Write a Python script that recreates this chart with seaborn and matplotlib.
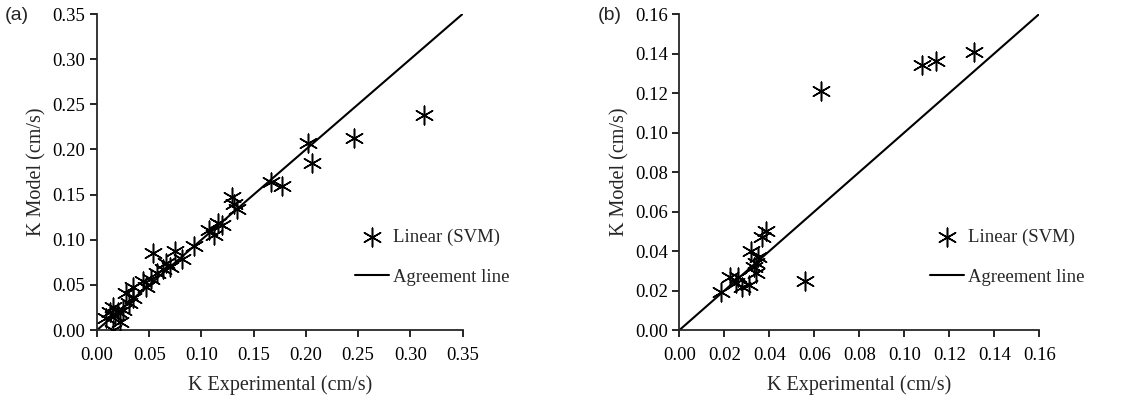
import seaborn as sns
import matplotlib.pyplot as plt

# panel (a) data
exp_a = [0.313, 0.246, 0.202, 0.206, 0.167, 0.177, 0.129, 0.131, 0.134, 0.107,
         0.116, 0.112, 0.093, 0.075, 0.081, 0.054, 0.066, 0.063, 0.057, 0.052,
         0.044, 0.047, 0.034, 0.028, 0.034, 0.031, 0.025, 0.015, 0.012, 0.017,
         0.022, 0.015, 0.009, 0.020, 0.070, 0.120]
mod_a = [0.238, 0.213, 0.207, 0.185, 0.164, 0.160, 0.147, 0.140, 0.134, 0.111,
         0.119, 0.105, 0.093, 0.087, 0.079, 0.085, 0.074, 0.068, 0.063, 0.057,
         0.054, 0.048, 0.048, 0.041, 0.035, 0.030, 0.022, 0.026, 0.020, 0.015,
         0.009, 0.000, 0.013, 0.020, 0.070, 0.116]

# panel (b) data
exp_b = [0.131, 0.114, 0.108, 0.063, 0.056, 0.0385, 0.0366, 0.032, 0.035, 0.034,
         0.033, 0.034, 0.031, 0.028, 0.025, 0.0225, 0.0185, 0.026]
mod_b = [0.141, 0.136, 0.134, 0.121, 0.025, 0.050, 0.047, 0.040, 0.037, 0.034,
         0.032, 0.029, 0.023, 0.022, 0.024, 0.027, 0.019, 0.027]

ticks_a = [0.00, 0.05, 0.10, 0.15, 0.20, 0.25, 0.30, 0.35]
ticks_b = [0.00, 0.02, 0.04, 0.06, 0.08, 0.10, 0.12, 0.14, 0.16]

sns.set_style("ticks")
plt.rcParams['font.family'] = ['Liberation Serif', 'DejaVu Serif']

fig = plt.figure(figsize=(11.42, 4.01), dpi=100)
ax_a = fig.add_axes([0.085, 0.177, 0.320, 0.788])
ax_b = fig.add_axes([0.595, 0.177, 0.315, 0.788])


def draw_panel(ax, x, y, ticks, tag, tag_x, leg_x):
    lim = ticks[-1]
    sns.lineplot(x=[ticks[0], lim], y=[ticks[0], lim], color='black',
                 linewidth=1.5, ax=ax, label='Agreement line')
    sns.scatterplot(x=x, y=y, marker=(6, 2, 0), s=180, color='black',
                    linewidth=1.1, ax=ax, label='Linear (SVM)', zorder=3)
    ax.set_xlim(ticks[0], lim)
    ax.set_ylim(ticks[0], lim)
    ax.set_xticks(ticks)
    ax.set_yticks(ticks)
    ax.set_xticklabels([f"{t:.2f}" for t in ticks])
    ax.set_yticklabels([f"{t:.2f}" for t in ticks])
    ax.tick_params(labelsize=13.5, length=5, width=1.2, colors='black')
    ax.tick_params(axis='x', pad=7)
    for s in ['left', 'bottom']:
        ax.spines[s].set_linewidth(1.3)
    sns.despine(ax=ax)
    ax.set_xlabel("K Experimental (cm/s)", fontsize=14.5, labelpad=8)
    ax.set_ylabel("K Model (cm/s)", fontsize=14.5, labelpad=4)
    handles, labels = ax.get_legend_handles_labels()
    ax.legend(handles[::-1], labels[::-1], loc='center left',
              bbox_to_anchor=(leg_x, 0.23), frameon=False, fontsize=13.5,
              labelspacing=1.2, handlelength=1.8, handletextpad=0.2)
    fig.text(tag_x, 0.962, tag, family=['Liberation Sans', 'DejaVu Sans'],
             fontsize=14, va='center', ha='left')


draw_panel(ax_a, exp_a, mod_a, ticks_a, "(a)", 0.004, 0.66)
draw_panel(ax_b, exp_b, mod_b, ticks_b, "(b)", 0.523, 0.65)

fig.savefig("out.png", dpi=100)
